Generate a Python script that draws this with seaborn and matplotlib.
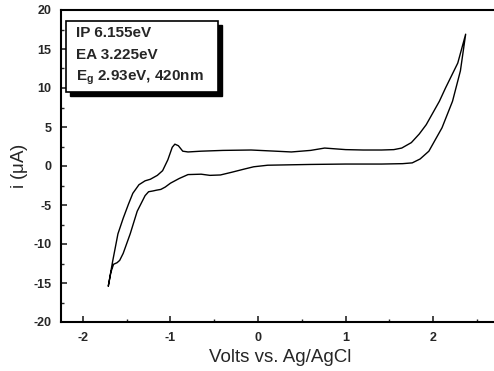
import matplotlib
matplotlib.use("Agg")
import matplotlib.pyplot as plt
import seaborn as sns
import pandas as pd
import numpy as np
from matplotlib.patches import Rectangle
from matplotlib.ticker import MultipleLocator

# forward scan (upper branch)
fwd_v = [-1.71, -1.66, -1.60, -1.54, -1.48, -1.43, -1.36, -1.29, -1.23, -1.15, -1.09, -1.03,
         -0.98, -0.95, -0.91, -0.86, -0.80, -0.65, -0.40, -0.08, 0.20, 0.38, 0.60, 0.76,
         1.00, 1.20, 1.41, 1.55, 1.64, 1.75, 1.84, 1.92, 1.99, 2.07, 2.14, 2.21, 2.28, 2.37]
fwd_i = [-15.4, -12.2, -8.7, -6.7, -4.9, -3.5, -2.4, -1.9, -1.7, -1.2, -0.6, 0.8,
         2.4, 2.8, 2.6, 1.9, 1.8, 1.9, 2.0, 2.05, 1.9, 1.8, 2.0, 2.3,
         2.1, 2.05, 2.05, 2.1, 2.3, 3.0, 4.1, 5.3, 6.7, 8.3, 10.0, 11.6, 13.2, 16.9]
# reverse scan (lower branch)
rev_v = [2.37, 2.31, 2.22, 2.10, 1.95, 1.85, 1.76, 1.65, 1.41, 1.00, 0.60, 0.11, -0.05,
         -0.16, -0.30, -0.43, -0.55, -0.65, -0.80, -0.90, -1.00, -1.06, -1.11, -1.16,
         -1.20, -1.25, -1.29, -1.38, -1.46, -1.54, -1.58, -1.61, -1.65, -1.68, -1.71]
rev_i = [16.9, 12.2, 8.3, 4.9, 1.9, 0.9, 0.4, 0.3, 0.25, 0.25, 0.2, 0.1, -0.1,
         -0.4, -0.8, -1.15, -1.2, -1.05, -1.1, -1.6, -2.2, -2.7, -3.0, -3.1,
         -3.2, -3.3, -3.8, -5.8, -8.7, -11.2, -12.1, -12.4, -12.6, -13.6, -15.4]

x_ticks = [-2, -1, 0, 1, 2]
y_ticks = [-20, -15, -10, -5, 0, 5, 10, 15, 20]
box_lines = ["IP 6.155eV", "EA 3.225eV", r"E$_\mathregular{g}$ 2.93eV, 420nm"]

sns.set_style("ticks")
plt.rcParams['font.family'] = ['Liberation Sans', 'DejaVu Sans']
plt.rcParams['mathtext.default'] = 'regular'
plt.rcParams['axes.unicode_minus'] = False

df = pd.DataFrame({
    "V": fwd_v + rev_v,
    "I": fwd_i + rev_i,
    "order": np.arange(len(fwd_v) + len(rev_v)),
})

fig = plt.figure(figsize=(4.94, 3.71), dpi=100)
ax = fig.add_axes([61/494, 1 - 322/371, 1 - 61/494 + 0.01, (322 - 10)/371])
sns.lineplot(data=df, x="V", y="I", sort=False, estimator=None, color="black",
             linewidth=1.0, ax=ax)

ax.set_xlim(-2.25, 2.75)
ax.set_ylim(-20, 20)
ax.set_xticks(x_ticks)
ax.set_yticks(y_ticks)
ax.xaxis.set_minor_locator(MultipleLocator(0.5))
ax.yaxis.set_minor_locator(MultipleLocator(2.5))
ax.tick_params(which='major', direction='in', length=4, width=1.2, labelsize=9,
               top=False, right=False, pad=7)
ax.tick_params(which='minor', direction='in', length=2.5, width=1.0, top=False, right=False)
for lab in ax.get_xticklabels() + ax.get_yticklabels():
    lab.set_fontweight('bold')
for s in ['left', 'bottom', 'top']:
    ax.spines[s].set_linewidth(1.5)
    ax.spines[s].set_color('black')
ax.spines['right'].set_visible(False)

ax.set_xlabel("Volts vs. Ag/AgCl", fontsize=13.5, labelpad=4)
ax.set_ylabel(r"i ($\mu$A)", fontsize=13.5, labelpad=2)

# text box with drop shadow (axes coordinates)
w = ax.get_position().width * 494
h = ax.get_position().height * 371
def ax_x(px): return (px - 61) / w
def ax_y(py): return 1 - (py - 10) / h
bx0, bx1, by0, by1 = ax_x(66), ax_x(218), ax_y(92), ax_y(21)
ax.add_patch(Rectangle((bx0 + 3.5/w, by0 - 3.5/h), bx1 - bx0, by1 - by0, transform=ax.transAxes,
                       facecolor='black', edgecolor='black', zorder=5, clip_on=False))
ax.add_patch(Rectangle((bx0, by0), bx1 - bx0, by1 - by0, transform=ax.transAxes,
                       facecolor='white', edgecolor='black', linewidth=1.2, zorder=6, clip_on=False))
for k, (line, py) in enumerate(zip(box_lines, [37, 59, 81])):
    ax.text(ax_x(76), ax_y(py), line, transform=ax.transAxes, fontsize=11,
            fontweight='bold', va='baseline', ha='left', zorder=7)

fig.savefig("out.png", dpi=100)
